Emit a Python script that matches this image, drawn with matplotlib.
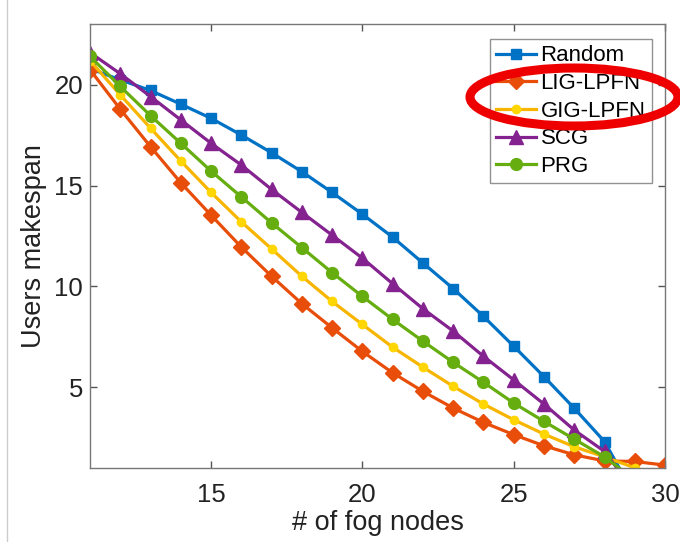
import matplotlib
matplotlib.use("Agg")
import matplotlib.pyplot as plt
from matplotlib.patches import Ellipse
from matplotlib.lines import Line2D

# number of fog nodes
nodes = list(range(11, 31))

# users makespan per method
random_vals = [20.8, 20.25, 19.72, 19.04, 18.34, 17.51, 16.63, 15.69, 14.66, 13.58,
               12.44, 11.16, 9.89, 8.51, 7.03, 5.52, 3.95, 2.30, -0.4, -0.5]
lig_vals = [20.75, 18.79, 16.93, 15.14, 13.53, 11.95, 10.50, 9.14, 7.94, 6.77,
            5.71, 4.79, 3.96, 3.25, 2.64, 2.09, 1.64, 1.34, 1.31, 1.13]
gig_vals = [21.2, 19.50, 17.85, 16.22, 14.66, 13.20, 11.86, 10.50, 9.25, 8.11,
            6.98, 5.99, 5.04, 4.16, 3.38, 2.67, 2.04, 1.54, 1.0, 0.3]
scg_vals = [21.6, 20.55, 19.42, 18.26, 17.10, 16.02, 14.81, 13.67, 12.54, 11.4,
            10.13, 8.89, 7.78, 6.53, 5.36, 4.16, 2.87, 1.81, -0.2, -0.4]
prg_vals = [21.41, 19.92, 18.47, 17.10, 15.72, 14.44, 13.15, 11.92, 10.68, 9.50,
            8.36, 7.28, 6.23, 5.24, 4.21, 3.30, 2.42, 1.54, 0.4, 0.2]

plt.rcParams['font.family'] = ['Liberation Sans', 'DejaVu Sans']

fig = plt.figure(figsize=(6.8, 5.42), dpi=100)
ax = fig.add_axes([0.1324, 0.137, 0.978 - 0.1324, 0.955 - 0.137])

lw = 2.3
ax.plot(nodes, random_vals, '-s', color='#0072C6', lw=lw, ms=7.5, label='Random')
ax.plot(nodes, lig_vals, '-D', color='#E84E0A', lw=lw, ms=8, label='LIG-LPFN')
ax.plot(nodes, gig_vals, '-o', color='#F7B500', mfc='#FFD600', mec='#FFD600',
        lw=lw, ms=6, label='GIG-LPFN')
ax.plot(nodes, scg_vals, '-^', color='#84238F', lw=lw, ms=9.5, label='SCG')
ax.plot(nodes, prg_vals, '-o', color='#66AD10', lw=lw, ms=8.5, label='PRG')

ax.set_xlim(11, 30)
ax.set_ylim(1, 23)
ax.set_xticks([15, 20, 25, 30])
ax.set_yticks([5, 10, 15, 20])
ax.tick_params(direction='in', length=5, width=1, colors='#555555',
               labelcolor='#222222', labelsize=18.5, top=True, right=True)
ax.tick_params(axis='x', pad=11)
ax.tick_params(axis='y', pad=5)
for s in ax.spines.values():
    s.set_color('#777777')
    s.set_linewidth(1.0)

ax.set_xlabel('# of fog nodes', fontsize=19.5, color='#222222', labelpad=2)
ax.set_ylabel('Users makespan', fontsize=19.5, color='#222222', labelpad=5)

leg = ax.legend(loc='upper right', fontsize=16, frameon=True, fancybox=False,
                edgecolor='#777777', handlelength=1.8, handletextpad=0.2,
                borderpad=0.28, labelspacing=0.3, borderaxespad=0.0,
                bbox_to_anchor=(0.977, 0.9665))
leg.get_frame().set_linewidth(1.0)

# red highlight ellipse around two legend entries
ell = Ellipse((574 / 680, 1 - 97 / 542), 208 / 680, 58 / 542,
              transform=fig.transFigure, fill=False, edgecolor='#EE0000',
              linewidth=6.5, clip_on=False)
fig.patches.append(ell)

# thin border line at left edge
fig.lines.append(Line2D([7 / 680, 7 / 680], [0, 1], transform=fig.transFigure,
                        color='#CCCCCC', lw=1))

fig.savefig('out.png', dpi=100)
